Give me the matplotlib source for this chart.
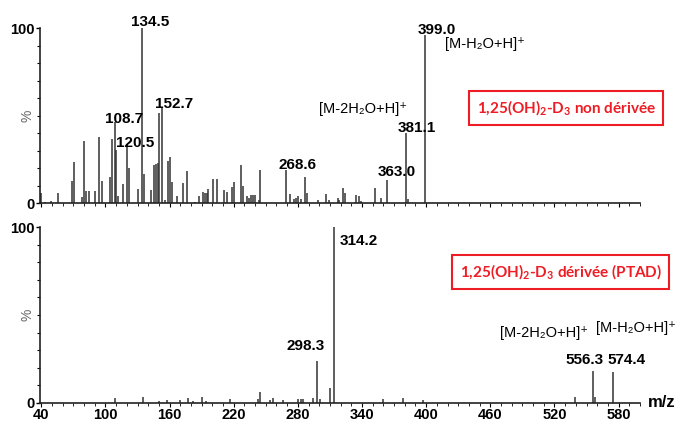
import matplotlib
matplotlib.use('Agg')
import matplotlib.pyplot as plt
from matplotlib.ticker import MultipleLocator

plt.rcParams['font.family'] = ['Liberation Sans', 'DejaVu Sans']
plt.rcParams['mathtext.default'] = 'regular'

# Spectrum 1: 1,25(OH)2-D3 non derivee (m/z, relative intensity %)
top_mz = [40, 43.5, 48.8, 56, 68.4, 70.6, 77.8, 80, 81.8, 84.6, 90.2, 94,
          96.5, 104.3, 106.1, 108.7, 110.2, 111.5, 116.7, 120.5, 122.3,
          130.2, 134.5, 136.4, 142.3, 145.7, 147.3, 148.9, 150.4, 152.7,
          155.7, 158.2, 160.4, 162, 166.7, 172.3, 176, 183.8, 187.5, 191,
          193, 194.7, 196.2, 200.3, 204, 210.9, 213.4, 218.7, 220.3, 226.5,
          228.4, 232.7, 234.6, 236.2, 238.3, 240, 243.4, 244.9, 268.6,
          272.7, 276.4, 278.3, 279.8, 282.9, 286.7, 288.8, 299.1, 306.3,
          309.1, 317.3, 318.8, 322.5, 324.4, 334.1, 337.5, 339.4, 352.2,
          357.5, 363.0, 381.1, 382.6, 399.0]
top_int = [6, 1, 1.5, 6, 12.7, 23.4, 3.8, 35.8, 7, 7, 7, 37.7,
           12.7, 15.2, 36.6, 46.6, 30.5, 4, 10.8, 33.7, 20.3,
           8, 100, 17, 7.8, 21.9, 22.5, 23.3, 51.4, 55.2,
           2, 24, 26.6, 12.4, 4.2, 11.6, 18.3, 1, 4, 6.7,
           6, 5.7, 8, 13.7, 13.7, 7.4, 6.5, 9.5, 12.4, 21.9,
           10, 4, 3, 5, 4.5, 4.5, 2, 19, 19,
           5.6, 2.5, 3, 4, 2.5, 15, 5.7, 2, 5.6,
           2, 3, 2, 8.9, 5.7, 5, 4, 1.5, 9,
           3, 13.3, 40, 2.5, 96]

# Spectrum 2: 1,25(OH)2-D3 derivee (PTAD)
bot_mz = [109, 134.8, 150, 157.3, 170, 177.5, 182, 190, 194, 216.5, 243,
          244.6, 254, 257, 266, 279.8, 283, 285, 293.9, 298.3, 301, 310,
          314.2, 360, 378.6, 397, 539.2, 556.3, 558, 574.4]
bot_int = [2.5, 3, 1, 1.5, 1.5, 2.5, 1, 3, 1, 2, 2,
           6.3, 1.5, 2.5, 1.5, 2, 2, 2, 2.5, 24, 2, 8.2,
           100, 2, 2.5, 1.5, 3, 18, 3.5, 17.3]

# peak labels: text, x, y (data coords)
top_labels = [('134.5', 141.7, 103.6), ('108.7', 117.4, 48.2),
              ('120.5', 127.7, 34.7), ('152.7', 164.1, 56.7),
              ('268.6', 279.7, 21.9), ('363.0', 372.7, 17.6),
              ('381.1', 391.4, 43.3), ('399.0', 409.7, 99.0)]
bot_labels = [('314.2', 337.2, 92.2), ('298.3', 287.6, 32.3),
              ('556.3', 548.1, 24.1), ('574.4', 587.4, 24.1)]
top_ions = [('[M-2H₂O+H]⁺', 340.5, 53.9), ('[M-H₂O+H]⁺', 455.1, 91.0)]
bot_ions = [('[M-2H₂O+H]⁺', 509.8, 39.7), ('[M-H₂O+H]⁺', 596.3, 42.6)]

x_ticks = [40, 100, 160, 220, 280, 340, 400, 460, 520, 580]

fig = plt.figure(figsize=(6.76, 4.21), dpi=100)
ax1 = fig.add_axes([40 / 676, 0.5171, 600 / 676, 0.4157])
ax2 = fig.add_axes([40 / 676, 0.0435, 600 / 676, 0.4166])


def style_axis(ax, show_labels):
    ax.set_xlim(38.8, 600)
    ax.set_ylim(0, 100)
    for s in ['top', 'right']:
        ax.spines[s].set_visible(False)
    for s in ['left', 'bottom']:
        ax.spines[s].set_linewidth(1.2)
        ax.spines[s].set_color('#222222')
    ax.set_yticks([0, 100])
    ax.set_yticklabels(['0', '100'], fontsize=10.5, fontweight='bold')
    ax.yaxis.set_minor_locator(MultipleLocator(10))
    ax.tick_params(axis='y', which='major', length=3, width=1, pad=1)
    ax.tick_params(axis='y', which='minor', length=2, width=0.8)
    ax.set_xticks(x_ticks)
    ax.xaxis.set_minor_locator(MultipleLocator(10))
    ax.tick_params(axis='x', which='major', length=3, width=0.8, pad=1)
    ax.tick_params(axis='x', which='minor', length=2, width=0.6)
    if show_labels:
        ax.set_xticklabels([str(t) for t in x_ticks], fontsize=10.5,
                           fontweight='bold')
    else:
        ax.set_xticklabels([])
    ax.text(-0.02, 0.5, '%', transform=ax.transAxes, rotation=90,
            ha='center', va='center', fontsize=10, color='#666666')


for ax, mz, inten, labels, ions in [(ax1, top_mz, top_int, top_labels, top_ions),
                                    (ax2, bot_mz, bot_int, bot_labels, bot_ions)]:
    ax.vlines(mz, 0, inten, colors='#333333', linewidth=1.1)
    style_axis(ax, ax is ax2)
    for txt, x, y in labels:
        ax.text(x, y, txt, ha='center', va='center', fontsize=11,
                fontweight='bold', clip_on=False)
    for txt, x, y in ions:
        ax.text(x, y, txt, ha='center', va='center', fontsize=10.5,
                clip_on=False)

box_style = dict(boxstyle='square,pad=0.5', fc='white', ec='#ee1c24', lw=1.5)
ax1.text(530.8, 54.7, '1,25(OH)$_2$-D$_3$ non dérivée', ha='center',
         va='center', fontsize=11, color='#ee1c24', fontweight='bold',
         family=['Lato', 'DejaVu Sans'], bbox=box_style)
ax2.text(525.7, 74.5, '1,25(OH)$_2$-D$_3$ dérivée (PTAD)', ha='center',
         va='center', fontsize=11, color='#ee1c24', fontweight='bold',
         family=['Lato', 'DejaVu Sans'], bbox=box_style)

ax2.text(620.6, 0, 'm/z', ha='center', va='center', fontsize=12,
         fontweight='bold', clip_on=False)

fig.savefig('out.png', dpi=100)
